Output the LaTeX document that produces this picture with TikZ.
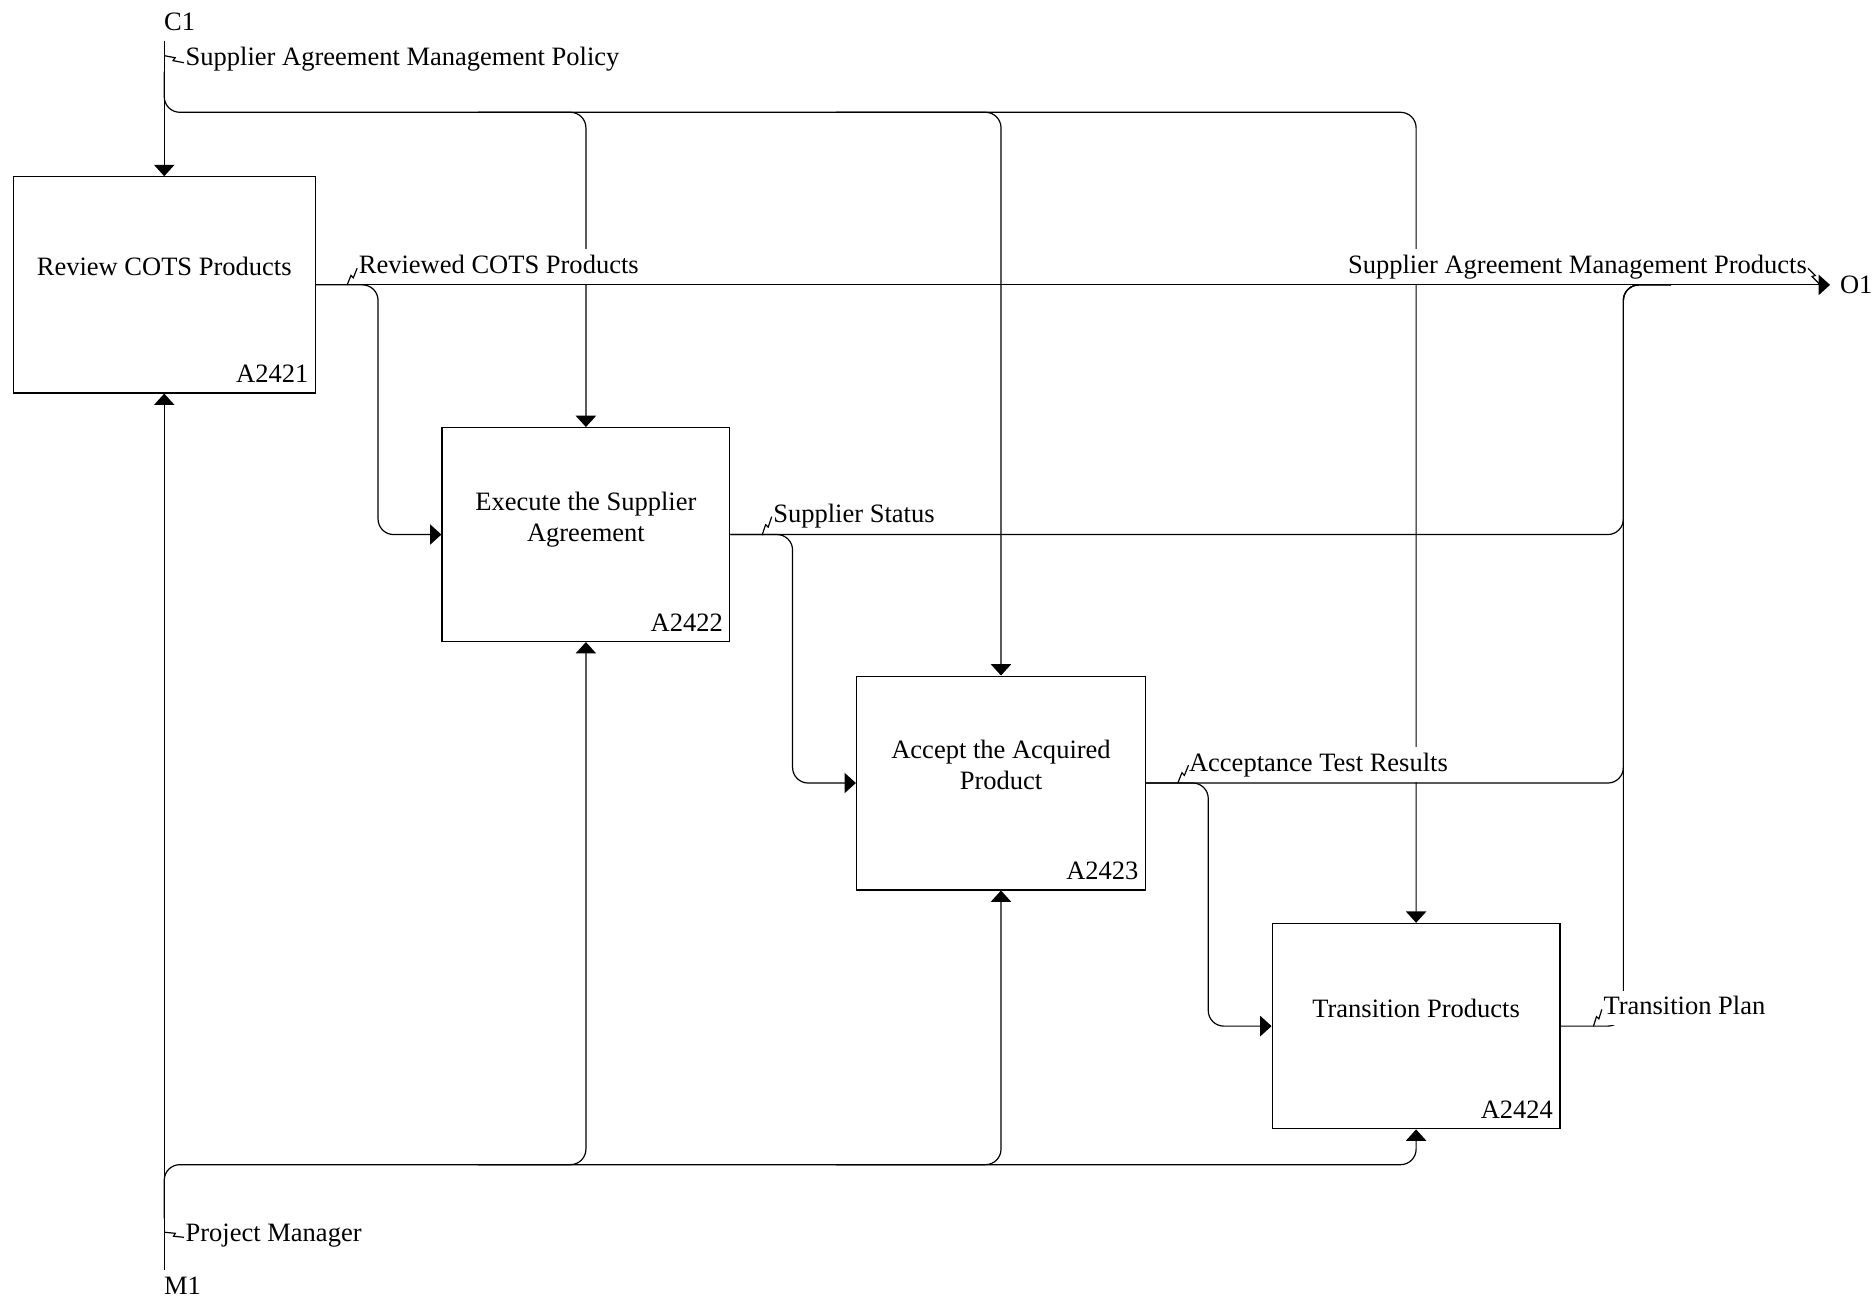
\documentclass[tikz,border=0pt]{standalone}
\usepackage{fontspec}
\setmainfont{Liberation Serif}
\usetikzlibrary{arrows.meta,calc}
\newcommand\zigline[2]{\draw[plain] (#1) -- ($(#1)!0.53!9:(#2)$) -- ($(#2)!0.53!9:(#1)$) -- (#2);}
\begin{document}
\begin{tikzpicture}[x=0.5pt,y=-0.5pt,
  font=\fontsize{11.1pt}{13pt}\selectfont,
  proc/.style={draw,line width=0.5pt,inner sep=0pt},
  plain/.style={draw,line width=0.5pt},
  link/.style={plain,-{Triangle[length=4.75pt,width=8.5pt]}},
  rc/.style={rounded corners=6.5pt},
  lbl/.style={fill=white,inner xsep=0.5pt,inner ysep=1.7pt,text height=8.3pt,text depth=2.75pt},
  txt/.style={inner sep=0.5pt},
  title/.style={align=center,inner sep=0pt},
  ident/.style={inner sep=0pt,anchor=base east}]
\useasboundingbox (0,0) rectangle (1568,1087.5);

% activity boxes
\node[proc,minimum width=126.5pt,minimum height=90.5pt] (b1) at (137.5,238.5) {};
\node[proc,minimum width=120.5pt,minimum height=89.5pt] (b2) at (490.5,447.5) {};
\node[proc,minimum width=121pt,minimum height=89.5pt] (b3) at (838,655.5) {};
\node[proc,minimum width=120.5pt,minimum height=86pt] (b4) at (1185.5,859) {};

% boundary coordinates
\coordinate (c1) at (137.5,34);
\coordinate (m1) at (137.5,1063);
\coordinate (o1) at (1532,238.5);
\coordinate (cy) at (0,94);
\coordinate (my) at (0,975);
\coordinate (col) at (1359,238.5);

% controls
\draw[link] (c1) -- (b1.north);
\draw[link,rc] (137.5,60) |- (b4.north |- cy) -- (b4.north);
\draw[link,rc] (400,94) -- (b2.north |- cy) -- (b2.north);
\draw[link,rc] (700,94) -- (b3.north |- cy) -- (b3.north);

% mechanisms
\draw[link] (m1) -- (b1.south);
\draw[link,rc] (137.5,1020) |- (b4.south |- my) -- (b4.south);
\draw[link,rc] (400,975) -- (b2.south |- my) -- (b2.south);
\draw[link,rc] (700,975) -- (b3.south |- my) -- (b3.south);

% outputs
\draw[link] (b1.east) -- (o1);
\draw[link,rc] (b1.east) -| ($(b2.west)+(-53,0)$) -- (b2.west);
\draw[link,rc] (b2.east) -| ($(b3.west)+(-53,0)$) -- (b3.west);
\draw[link,rc] (b3.east) -| ($(b4.west)+(-53,0)$) -- (b4.west);
\draw[plain,rc] (b2.east) -| (col) -- ++(40,0);
\draw[plain,rc] (b3.east) -| (col) -- ++(40,0);
\draw[plain,rc] (b4.east) -| (col) -- ++(40,0);

% arrow labels
\node[txt,anchor=west] (lc1) at (136,18.5) {C1};
\node[txt,anchor=west] (lm1) at (136,1076) {M1};
\node[txt,anchor=west] (lo1) at (1539,238.5) {O1};
\node[lbl,anchor=west] (lpol) at (154,49) {Supplier Agreement Management Policy};
\node[lbl,anchor=west] (lpm) at (154,1034) {Project Manager};
\node[lbl,anchor=south west] (lrev) at (299,238) {Reviewed COTS Products};
\node[lbl,anchor=south west] (lsst) at (646,447) {Supplier Status};
\node[lbl,anchor=south west] (latr) at (994,655) {Acceptance Test Results};
\node[lbl,anchor=south west] (ltpl) at (1341,858.5) {Transition Plan};
\node[lbl,anchor=south east] (lsamp) at (1514,238) {Supplier Agreement Management Products};

% squiggles
\coordinate (zpa) at (137.5,46.6);   \coordinate (zpb) at (154,52.5);
\coordinate (zma) at (138,1031.6);   \coordinate (zmb) at (154,1035.8);
\coordinate (zra) at (290.6,238.6);  \coordinate (zrb) at (299,224.5);
\coordinate (zsa) at (638,448);      \coordinate (zsb) at (646,432.5);
\coordinate (zaa) at (986,655.5);    \coordinate (zab) at (995,640.5);
\coordinate (zta) at (1334,859);     \coordinate (ztb) at (1341,845);
\coordinate (zoa) at (1513.6,224.6); \coordinate (zob) at (1523,237.5);
\zigline{zpa}{zpb}
\zigline{zma}{zmb}
\zigline{zra}{zrb}
\zigline{zsa}{zsb}
\zigline{zaa}{zab}
\zigline{zta}{ztb}
\zigline{zoa}{zob}

% box texts
\node[title] (t1) at (137.5,223) {Review COTS Products};
\node[title] (t2) at (490.5,435) {Execute the Supplier\\Agreement};
\node[title] (t3) at (838,640.5) {Accept the Acquired\\Product};
\node[title] (t4) at (1185.5,844.5) {Transition Products};
\node[ident] (i1) at ([xshift=-3pt,yshift=4.5pt]b1.south east) {A2421};
\node[ident] (i2) at ([xshift=-3pt,yshift=4.5pt]b2.south east) {A2422};
\node[ident] (i3) at ([xshift=-3pt,yshift=4.5pt]b3.south east) {A2423};
\node[ident] (i4) at ([xshift=-3pt,yshift=4.5pt]b4.south east) {A2424};
\end{tikzpicture}
\end{document}
